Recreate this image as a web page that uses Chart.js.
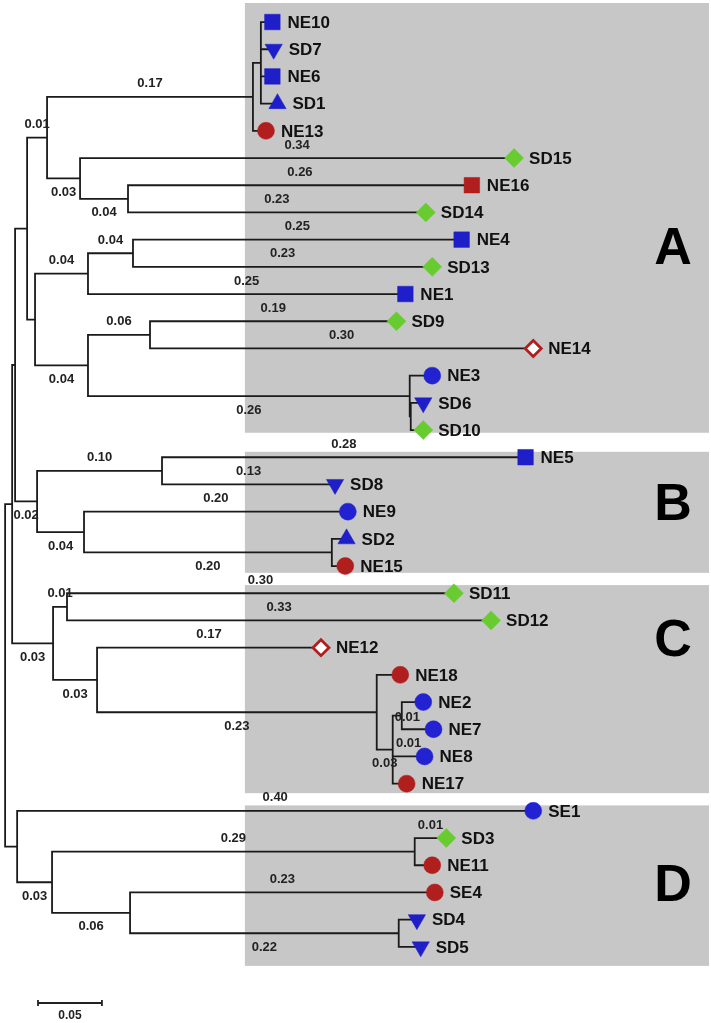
<!DOCTYPE html>
<html>
<head>
<meta charset="utf-8">
<title>Dendrogram</title>
<script src="https://cdn.jsdelivr.net/npm/chart.js@4.4.1/dist/chart.umd.min.js"></script>
<style>
  html, body { margin: 0; padding: 0; background: #fff; }
  #wrap { width: 711px; height: 1023px; position: relative; }
</style>
</head>
<body>
<div id="wrap"><canvas id="tree"></canvas></div>
<script>
// Leaves, top to bottom (row = index)
const leafNames = ['NE10','SD7','NE6','SD1','NE13','SD15','NE16','SD14','NE4','SD13','NE1','SD9','NE14','NE3','SD6','SD10',
                   'NE5','SD8','NE9','SD2','NE15',
                   'SD11','SD12','NE12','NE18','NE2','NE7','NE8','NE17',
                   'SE1','SD3','NE11','SE4','SD4','SD5'];
const leafParent = ['a1a1','a1a1','a1a1','a1a1','a1a','a1b','a1b2','a1b2','a2a1','a2a1','a2a','a2b1','a2b1','a2b2','a2b2b','a2b2b',
                    'b1','b1','b2','b2b','b2b',
                    'c1','c1','c2','c2b','c2b2a','c2b2a','c2b2','c2b2',
                    'd','d2a','d2a','d2b','d2b2','d2b2'];
// distance from root to the tip (marker)
const leafDepth = [0.209,0.210,0.209,0.213,0.204,0.398,0.365,0.329,0.357,0.334,0.313,0.306,0.413,0.334,0.327,0.327,
                   0.407,0.258,0.268,0.267,0.266,
                   0.351,0.380,0.247,0.309,0.327,0.335,0.328,0.314,
                   0.413,0.345,0.334,0.336,0.322,0.325];
const leafType = ['blueSquare','blueDown','blueSquare','blueUp','redCircle','greenDiamond','redSquare','greenDiamond',
                  'blueSquare','greenDiamond','blueSquare','greenDiamond','redOpen','blueCircle','blueDown','greenDiamond',
                  'blueSquare','blueDown','blueCircle','blueUp','redCircle',
                  'greenDiamond','greenDiamond','redOpen','redCircle','blueCircle','blueCircle','blueCircle','redCircle',
                  'blueCircle','greenDiamond','redCircle','redCircle','blueDown','blueDown'];

// Internal nodes
const nodeIds    = ['root','x','y','a','b','c','d','a1','a2','a1a','a1a1','a1b','a1b2','a2a','a2a1','a2b','a2b1','a2b2','a2b2b',
                    'b1','b2','b2b','c1','c2','c2b','c2b2','c2b2a','d2','d2a','d2b','d2b2'];
const nodeParent = [null,'root','x','y','y','x','root','a','a','a1','a1a','a1','a1b','a2','a2a','a2','a2b','a2b','a2b2',
                    'b','b','b2','c','c','c2','c2b','c2b2','d','d2','d2','d2b'];
const nodeDepth  = [0,0.0055,0.0078,0.0172,0.025,0.0375,0.0094,0.0328,0.0234,0.1938,0.2,0.0586,0.0961,0.0648,0.1,0.0648,0.1133,0.3164,0.3172,
                    0.1227,0.0617,0.2555,0.0484,0.0719,0.2906,0.3031,0.3102,0.0367,0.3203,0.0977,0.3078];

// Branch length labels (branch ending at the given node or leaf)
const labelNode = ['a1','a1a','SD15','a1b','NE16','a1b2','SD14','a2a','a2a1','NE4','SD13','NE1','a2b1','SD9','NE14','a2b','a2b2',
                   'b','b1','NE5','SD8','NE9','b2','b2b',
                   'c1','SD11','SD12','c','c2','NE12','c2b','c2b2a','NE8','c2b2',
                   'd2','SE1','d2a','SD3','SE4','d2b','d2b2'];
const labelText = ['0.01','0.17','0.34','0.03','0.26','0.04','0.23','0.04','0.04','0.25','0.23','0.25','0.06','0.19','0.30','0.04','0.26',
                   '0.02','0.10','0.28','0.13','0.20','0.04','0.20',
                   '0.01','0.30','0.33','0.03','0.03','0.17','0.23','0.01','0.01','0.03',
                   '0.03','0.40','0.29','0.01','0.23','0.06','0.22'];
const labelSide = ['above','above','above','below','above','below','above','above','above','above','above','above','above','above','above','below','below',
                   'below','above','above','above','above','below','below',
                   'above','above','above','below','below','above','below','right','above','below',
                   'below','above','above','above','above','below','below'];

// Clades (shaded panels, rows in leaf units)
const cladeNames = ['A','B','C','D'];
const cladeTop = [-0.7, 15.8, 20.7, 28.8];
const cladeBottom = [15.1, 20.25, 28.35, 34.7];
const cladeLetterRow = [8.3, 17.7, 22.7, 31.7];
const cladeStart = 0.1875;

const scaleBarLength = 0.05;

const markerStyles = {
  blueSquare:   { pointStyle: 'rect', color: '#1f1fc9', radius: 11 },
  redSquare:    { pointStyle: 'rect', color: '#b01e1e', radius: 11 },
  blueUp:       { pointStyle: 'triangle', color: '#1f1fc9', radius: 10, rotation: 0 },
  blueDown:     { pointStyle: 'triangle', color: '#1f1fc9', radius: 10, rotation: 180 },
  blueCircle:   { pointStyle: 'circle', color: '#2222d2', radius: 8.5 },
  redCircle:    { pointStyle: 'circle', color: '#b01e1e', radius: 8.5 },
  greenDiamond: { pointStyle: 'rectRot', color: '#68cc30', radius: 9.5 },
  redOpen:      { pointStyle: 'rectRot', color: '#b01e1e', fill: '#ffffff', radius: 8, border: 2.8 }
};

// Build tree lookups
const depthOf = {};
const parentOf = {};
const children = {};
nodeIds.forEach((id, i) => {
  depthOf[id] = nodeDepth[i];
  parentOf[id] = nodeParent[i];
  if (nodeParent[i]) (children[nodeParent[i]] = children[nodeParent[i]] || []).push(id);
});
leafNames.forEach((name, i) => {
  depthOf[name] = leafDepth[i];
  parentOf[name] = leafParent[i];
  (children[leafParent[i]] = children[leafParent[i]] || []).push(name);
});

const rowOf = {};
leafNames.forEach((name, i) => { rowOf[name] = i; });
function nodeRow(id) {
  if (rowOf[id] !== undefined) return rowOf[id];
  const rows = children[id].map(nodeRow);
  rowOf[id] = (Math.min(...rows) + Math.max(...rows)) / 2;
  return rowOf[id];
}
nodeRow('root');

// Elbow segments: parent vertical down/up to child row, then across to child
const branchData = [];
Object.keys(parentOf).forEach(id => {
  const p = parentOf[id];
  if (!p) return;
  branchData.push({ x: depthOf[p], y: rowOf[p] });
  branchData.push({ x: depthOf[p], y: rowOf[id] });
  branchData.push({ x: depthOf[id], y: rowOf[id] });
  branchData.push({ x: null, y: null });
});

const markerDatasets = Object.keys(markerStyles).map(type => {
  const s = markerStyles[type];
  const pts = [];
  leafNames.forEach((name, i) => {
    if (leafType[i] === type) pts.push({ x: leafDepth[i], y: i });
  });
  return {
    label: type,
    data: pts,
    pointStyle: s.pointStyle,
    pointRadius: s.radius,
    pointRotation: s.rotation || 0,
    pointBackgroundColor: s.fill || s.color,
    pointBorderColor: s.color,
    pointBorderWidth: s.border || 0.5,
    order: 1
  };
});

const treeDecor = {
  id: 'treeDecor',
  beforeDatasetsDraw(chart) {
    const { ctx, chartArea, scales } = chart;
    const xs = scales.x, ys = scales.y;
    ctx.save();
    ctx.fillStyle = '#c7c7c7';
    const left = xs.getPixelForValue(cladeStart);
    const right = chartArea.right - 2;
    cladeNames.forEach((n, i) => {
      const top = ys.getPixelForValue(cladeTop[i]);
      const bottom = ys.getPixelForValue(cladeBottom[i]);
      ctx.fillRect(left, top, right - left, bottom - top);
    });
    ctx.restore();
  },
  afterDatasetsDraw(chart) {
    const { ctx, chartArea, scales } = chart;
    const xs = scales.x, ys = scales.y;
    ctx.save();

    // leaf names
    ctx.fillStyle = '#111';
    ctx.font = 'bold 17px "Liberation Sans", Arial, sans-serif';
    ctx.textAlign = 'left';
    ctx.textBaseline = 'middle';
    leafNames.forEach((name, i) => {
      ctx.fillText(name, xs.getPixelForValue(leafDepth[i]) + 15, ys.getPixelForValue(i) + 1);
    });

    // branch lengths
    ctx.fillStyle = '#222';
    ctx.font = 'bold 13px "Liberation Sans", Arial, sans-serif';
    labelNode.forEach((id, i) => {
      const x0 = xs.getPixelForValue(depthOf[parentOf[id]]);
      const x1 = xs.getPixelForValue(depthOf[id]);
      const y = ys.getPixelForValue(rowOf[id]);
      if (labelSide[i] === 'right') {
        ctx.textAlign = 'left';
        ctx.fillText(labelText[i], x0 + 2, y + 2);
      } else {
        ctx.textAlign = 'center';
        ctx.fillText(labelText[i], (x0 + x1) / 2, labelSide[i] === 'above' ? y - 13 : y + 14);
      }
    });

    // clade letters
    ctx.fillStyle = '#000';
    ctx.font = 'bold 52px "Liberation Sans", Arial, sans-serif';
    ctx.textAlign = 'center';
    cladeNames.forEach((n, i) => {
      ctx.fillText(n, chartArea.right - 38, ys.getPixelForValue(cladeLetterRow[i]) + 2);
    });

    // scale bar
    const bx0 = 38;
    const bx1 = bx0 + (xs.getPixelForValue(scaleBarLength) - xs.getPixelForValue(0));
    const by = chartArea.bottom - 20;
    ctx.strokeStyle = '#222';
    ctx.lineWidth = 1.8;
    ctx.beginPath();
    ctx.moveTo(bx0, by); ctx.lineTo(bx1, by);
    ctx.moveTo(bx0, by - 3); ctx.lineTo(bx0, by + 3);
    ctx.moveTo(bx1, by - 3); ctx.lineTo(bx1, by + 3);
    ctx.stroke();
    ctx.fillStyle = '#222';
    ctx.font = 'bold 12px "Liberation Sans", Arial, sans-serif';
    ctx.textBaseline = 'middle';
    ctx.fillText(scaleBarLength.toFixed(2), (bx0 + bx1) / 2, by + 13);

    ctx.restore();
  }
};

new Chart(document.getElementById('tree'), {
  type: 'scatter',
  data: {
    datasets: markerDatasets.concat([{
      type: 'line',
      label: 'branches',
      data: branchData,
      borderColor: '#1a1a1a',
      borderWidth: 1.8,
      pointRadius: 0,
      fill: false,
      tension: 0,
      spanGaps: false,
      borderJoinStyle: 'miter',
      clip: false,
      order: 2
    }])
  },
  options: {
    responsive: true,
    maintainAspectRatio: false,
    animation: false,
    layout: { padding: 0, autoPadding: false },
    plugins: {
      legend: { display: false },
      tooltip: { enabled: false }
    },
    scales: {
      x: { type: 'linear', min: -0.004, max: 0.552, display: false },
      y: { type: 'linear', reverse: true, min: -0.81, max: 36.8, display: false }
    }
  },
  plugins: [treeDecor]
});
</script>
</body>
</html>
